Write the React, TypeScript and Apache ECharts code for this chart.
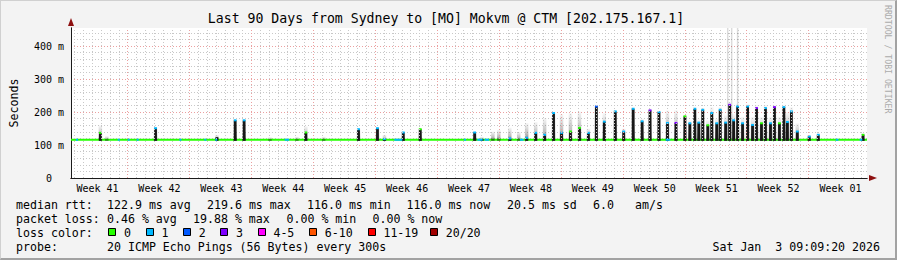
import React, { useEffect, useRef } from 'react';
import * as echarts from 'echarts';

const FONT = '"DejaVu Sans Mono", "Liberation Mono", monospace';
const TITLE = 'Last 90 Days from Sydney to [MO] Mokvm @ CTM [202.175.167.1]';
const WATERMARK = 'RRDTOOL / TOBI OETIKER';

// x axis: days since the Sunday 00:00 that opens the first week shown
const X_START = 0.6;
const X_END = 90.6;
const Y_MAX = 455; // ms
const BASE_RTT = 116; // ms, median floor

const weekBoundaryDays = [7, 14, 21, 28, 35, 42, 49, 56, 63, 70, 77, 84];
const weekLabelDays = [3.6, 10.6, 17.6, 24.6, 31.6, 38.6, 45.6, 52.6, 59.6, 66.6, 73.6, 80.6, 87.6];
const weekLabels = ['Week 41', 'Week 42', 'Week 43', 'Week 44', 'Week 45', 'Week 46', 'Week 47',
  'Week 48', 'Week 49', 'Week 50', 'Week 51', 'Week 52', 'Week 01'];

const yTickValues = [0, 100, 200, 300, 400];
const yTickLabels = ['0', '100 m', '200 m', '300 m', '400 m'];

// spikes: day, median peak (ms), smoke max (ms), loss class at the peak (-1 = none)
const spikeDay = [3.92, 4.65, 10.16, 17.10, 19.16, 20.17, 23.10, 26.14, 27.15, 29.17, 33.11, 35.25, 36.04, 38.17, 40.09,
  46.24, 47.06, 48.30, 48.97, 50.21, 51.22, 52.12, 53.14, 54.15, 55.16, 56.06, 57.07, 58.09, 59.10, 60.00,
  60.90, 62.14, 63.09, 64.16, 65.17, 66.07, 67.08, 68.04, 69.00, 70.01, 70.57, 71.13, 71.58, 72.03, 72.60,
  73.05, 73.61, 74.00, 74.62, 75.07, 75.52, 75.97, 76.53, 77.10, 77.66, 78.11, 78.67, 79.12, 79.69, 80.14,
  80.70, 81.20, 81.60, 82.05, 82.72, 84.07, 85.09, 90.15];
const spikeMedian = [137, 116, 151, 124, 175, 175, 116, 116, 138, 116, 148, 151, 118, 138, 148,
  138, 118, 116, 116, 120, 116, 122, 137, 131, 197, 137, 141, 152, 137, 217,
  171, 202, 141, 210, 172, 205, 200, 167, 167, 187, 166, 210, 168, 207, 160,
  197, 166, 207, 168, 222, 175, 217, 166, 217, 161, 212, 166, 212, 166, 215,
  166, 215, 170, 202, 141, 126, 131, 131];
const spikeSmoke = [160, 127, 154, 131, 178, 178, 124, 125, 157, 125, 151, 154, 131, 141, 151,
  141, 125, 141, 146, 153, 140, 167, 170, 182, 202, 194, 197, 202, 150, 222,
  197, 206, 150, 214, 180, 210, 205, 205, 206, 192, 175, 214, 178, 212, 175,
  215, 180, 215, 190, 230, 195, 225, 185, 225, 185, 222, 185, 222, 185, 222,
  185, 222, 200, 215, 166, 130, 135, 135];
const spikeLoss = [0, -1, 1, -1, 1, 1, -1, -1, 0, -1, 1, 1, 1, 1, 0,
  1, -1, -1, -1, 1, -1, 1, 1, 1, 1, 1, 0, 0, 1, 2,
  1, 1, 1, 1, 1, 3, 1, 1, 3, 0, 1, 1, 1, 1, 0,
  1, 1, 1, 1, 3, 1, 1, 1, 1, 1, 3, 0, 1, 1, 3,
  0, 1, 1, 1, 1, 1, 1, 0];

// single far outliers that reach the top of the graph
const outlierDay = [74.85, 75.3, 75.97];
const outlierMax = [455, 455, 455];

// stretches of the median line drawn in a loss colour
const lossMarkDay = [1.28, 6.0, 7.12, 8.14, 12.97, 15.79, 17.02, 25.01, 37.61, 45.15, 46.84, 47.62, 51.56, 68.1, 87.22, 89.92];
const lossMarkSpan = [0.25, 0.12, 0.12, 0.12, 0.12, 0.12, 0.15, 0.5, 0.9, 0.15, 0.6, 0.5, 0.4, 0.5, 0.3, 0.3];
const lossMarkLoss = [1, 1, 1, 1, 1, 1, 1, 1, 1, 1, 1, 1, 1, 1, 1, 1];

const lossColors = ['#26ff00', '#00b8ff', '#0059ff', '#7e00ff', '#ff00ff', '#ff5500', '#ff0000', '#a10000'];
const lossLabels = ['0', '1', '2', '3', '4-5', '6-10', '11-19', '20/20'];

const legendRow1 = ['median rtt:', '122.9 ms avg', '219.6 ms max', '116.0 ms min', '116.0 ms now', '20.5 ms sd', '6.0', 'am/s'];
const legendRow1X = [16, 107, 207, 307, 406.5, 507, 593, 635];
const legendRow2 = ['packet loss:', '0.46 % avg', '19.88 % max', '0.00 % min', '0.00 % now'];
const legendRow2X = [16, 107, 193, 286.5, 372.5];
const lossBoxX = [108.3, 145.7, 183, 220.3, 257.7, 309, 367.7, 430];
const probeText = ['probe:', '20 ICMP Echo Pings (56 Bytes) every 300s'];
const probeX = [16, 107];
const DATE_TEXT = 'Sat Jan  3 09:09:20 2026';

const GRID_GRAY = '#c8c8c8';
const GRID_RED = '#eba0a0';
const LEG_FS = 11.6;

function buildOption(): any {
  const dayLines: any[] = [];
  for (let d = Math.ceil(X_START); d < X_END; d++) {
    const major = weekBoundaryDays.indexOf(d) >= 0;
    dayLines.push({ xAxis: d, lineStyle: { color: major ? GRID_RED : GRID_GRAY, type: [1, 2], width: 1 } });
  }

  const smokeFill = new echarts.graphic.LinearGradient(0, 0, 0, 1, [
    { offset: 0, color: 'rgba(0,0,0,0.03)' },
    { offset: 0.6, color: 'rgba(0,0,0,0.25)' },
    { offset: 1, color: 'rgba(0,0,0,0.55)' },
  ]);

  const spikeData = spikeDay.map((d, i) => [d, spikeMedian[i], spikeSmoke[i], spikeLoss[i]]);
  const outlierData = outlierDay.map((d, i) => [d, outlierMax[i]]);
  const lossMarkData = lossMarkDay.map((d, i) => [d, BASE_RTT, lossMarkSpan[i], lossMarkLoss[i]]);

  const graphics: any[] = [];
  const txt = (text: string, x: number, y: number, extra: any = {}) => ({
    type: 'text', x, y, silent: true,
    style: { text, fontFamily: FONT, fontSize: LEG_FS, fill: '#000', align: 'left', verticalAlign: 'middle', ...extra },
  });
  graphics.push(txt(TITLE, 446, 18, { fontSize: 13.2, align: 'center' }));
  graphics.push({
    type: 'text', x: 888, y: 5, rotation: -Math.PI / 2, silent: true,
    style: { text: WATERMARK, fontFamily: FONT, fontSize: 8.2, fill: '#ababab', align: 'left', verticalAlign: 'middle' },
  });
  legendRow1.forEach((t, i) => graphics.push(txt(t, legendRow1X[i], 204.5)));
  legendRow2.forEach((t, i) => graphics.push(txt(t, legendRow2X[i], 218.5)));
  graphics.push(txt('loss color:', 16, 232.5));
  lossLabels.forEach((t, i) => {
    graphics.push({
      type: 'rect', silent: true,
      shape: { x: Math.round(lossBoxX[i]) + 0.5, y: 228.5, width: 7, height: 7 },
      style: { fill: lossColors[i], stroke: '#000', lineWidth: 1 },
    });
    graphics.push(txt(t, lossBoxX[i] + 15.7, 232.5));
  });
  probeText.forEach((t, i) => graphics.push(txt(t, probeX[i], 246.5)));
  graphics.push(txt(DATE_TEXT, 880, 246.5, { align: 'right' }));

  return {
    animation: false,
    backgroundColor: 'transparent',
    grid: { left: 67, top: 28, width: 800, height: 150, show: true, backgroundColor: '#ffffff', borderWidth: 0 },
    xAxis: [
      {
        type: 'value', min: X_START, max: X_END, position: 'bottom', z: 0,
        axisLine: { show: true, onZero: false, symbol: ['none', 'triangle'], symbolSize: [6, 8], symbolOffset: [0, 6], lineStyle: { color: '#8e1010', width: 1 } },
        axisTick: { show: false }, axisLabel: { show: false }, splitLine: { show: false },
      },
      {
        type: 'value', min: X_START, max: X_END, position: 'bottom', z: 1,
        axisLine: { show: true, onZero: false, lineStyle: { color: '#1a1a1a', width: 1 } },
        axisTick: { show: false }, splitLine: { show: false },
        axisLabel: {
          customValues: weekLabelDays,
          formatter: (v: number) => {
            const i = weekLabelDays.findIndex((d) => Math.abs(d - v) < 0.01);
            return i >= 0 ? weekLabels[i] : '';
          },
          fontFamily: FONT, fontSize: 10, color: '#000', margin: 5, hideOverlap: false,
        },
      },
    ],
    yAxis: [
      {
        type: 'value', min: 0, max: Y_MAX, position: 'left', z: 0,
        axisLine: { show: true, onZero: false, symbol: ['none', 'triangle'], symbolSize: [6, 8], symbolOffset: [0, 6], lineStyle: { color: '#8e1010', width: 1 } },
        axisTick: { show: false }, axisLabel: { show: false }, splitLine: { show: false },
      },
      {
        type: 'value', min: 0, max: Y_MAX, interval: 20, position: 'left', z: 1,
        axisLine: { show: true, onZero: false, lineStyle: { color: '#1a1a1a', width: 1 } },
        axisTick: { show: false },
        axisLabel: {
          formatter: (v: number) => {
            const i = yTickValues.indexOf(v);
            if (i < 0) return '';
            return v === 0 ? '{z|' + yTickLabels[i] + '}' : yTickLabels[i];
          },
          fontFamily: FONT, fontSize: 10, color: '#000', margin: 7,
          rich: { z: { fontFamily: FONT, fontSize: 10, color: '#000', padding: [0, 12, 0, 0] } },
        },
        splitLine: {
          show: true, showMinLine: true, showMaxLine: false,
          lineStyle: { color: [GRID_RED, GRID_GRAY, GRID_GRAY, GRID_GRAY, GRID_GRAY], type: [1, 2], width: 1 },
        },
        name: 'Seconds', nameLocation: 'middle', nameGap: 51,
        nameTextStyle: { fontFamily: FONT, fontSize: LEG_FS, color: '#000' },
      },
    ],
    series: [
      {
        type: 'line', xAxisIndex: 1, yAxisIndex: 1, data: [], z: 1, silent: true,
        markLine: { silent: true, symbol: ['none', 'none'], label: { show: false }, emphasis: { disabled: true }, animation: false, data: dayLines },
      },
      {
        type: 'custom', xAxisIndex: 1, yAxisIndex: 1, z: 2, silent: true, clip: true, data: outlierData,
        renderItem: (_p: any, api: any) => {
          const b = api.coord([api.value(0), BASE_RTT]);
          const t = api.coord([api.value(0), api.value(1)]);
          return { type: 'rect', shape: { x: b[0] - 0.75, y: t[1], width: 1.5, height: b[1] - t[1] }, style: { fill: 'rgba(0,0,0,0.14)' } };
        },
      },
      {
        type: 'line', xAxisIndex: 1, yAxisIndex: 1, z: 3, silent: true,
        data: [[X_START, BASE_RTT], [X_END, BASE_RTT]], symbol: 'none',
        lineStyle: { color: lossColors[0], width: 2 },
      },
      {
        type: 'custom', xAxisIndex: 1, yAxisIndex: 1, z: 4, silent: true, clip: true, data: spikeData,
        renderItem: (_p: any, api: any) => {
          const d = api.value(0), med = api.value(1), smk = api.value(2), loss = api.value(3);
          const b = api.coord([d, BASE_RTT]);
          const m = api.coord([d, med]);
          const s = api.coord([d, smk]);
          const children: any[] = [];
          if (smk > BASE_RTT) {
            children.push({ type: 'rect', shape: { x: b[0] - 1.75, y: s[1], width: 3.5, height: b[1] + 1 - s[1] }, style: { fill: smokeFill } });
          }
          if (med > BASE_RTT + 1) {
            children.push({ type: 'rect', shape: { x: b[0] - 1.4, y: m[1], width: 2.8, height: b[1] + 1 - m[1] }, style: { fill: '#181818' } });
            if (loss >= 0) {
              children.push({ type: 'rect', shape: { x: b[0] - 1.4, y: m[1] - 1, width: 2.8, height: 2 }, style: { fill: lossColors[loss] } });
            }
          }
          return { type: 'group', children };
        },
      },
      {
        type: 'custom', xAxisIndex: 1, yAxisIndex: 1, z: 5, silent: true, clip: true, data: lossMarkData,
        renderItem: (_p: any, api: any) => {
          const d = api.value(0), span = api.value(2), loss = api.value(3);
          const a = api.coord([d - span / 2, api.value(1)]);
          const c = api.coord([d + span / 2, api.value(1)]);
          const w = Math.max(2, c[0] - a[0]);
          return { type: 'rect', shape: { x: (a[0] + c[0]) / 2 - w / 2, y: a[1] - 1, width: w, height: 2 }, style: { fill: lossColors[loss] } };
        },
      },
    ],
    graphic: graphics,
  };
}

export default function App() {
  const ref = useRef<HTMLDivElement>(null);
  useEffect(() => {
    if (!ref.current) return;
    const chart = echarts.init(ref.current, undefined, { renderer: 'svg', width: 897, height: 260 });
    chart.setOption(buildOption());
    return () => chart.dispose();
  }, []);
  return (
    <div style={{ position: 'fixed', left: 0, top: 0, width: 897, height: 260, background: '#f3f3f3', overflow: 'hidden' }}>
      <div ref={ref} style={{ position: 'absolute', left: 0, top: 0, width: 897, height: 260 }} />
      <div
        style={{
          position: 'absolute', left: 0, top: 0, width: 897, height: 260, boxSizing: 'border-box',
          borderTop: '1px solid #d0d0d0', borderLeft: '1px solid #d0d0d0',
          borderRight: '2px solid #a2a2a2', borderBottom: '2px solid #a2a2a2', pointerEvents: 'none',
        }}
      />
    </div>
  );
}
